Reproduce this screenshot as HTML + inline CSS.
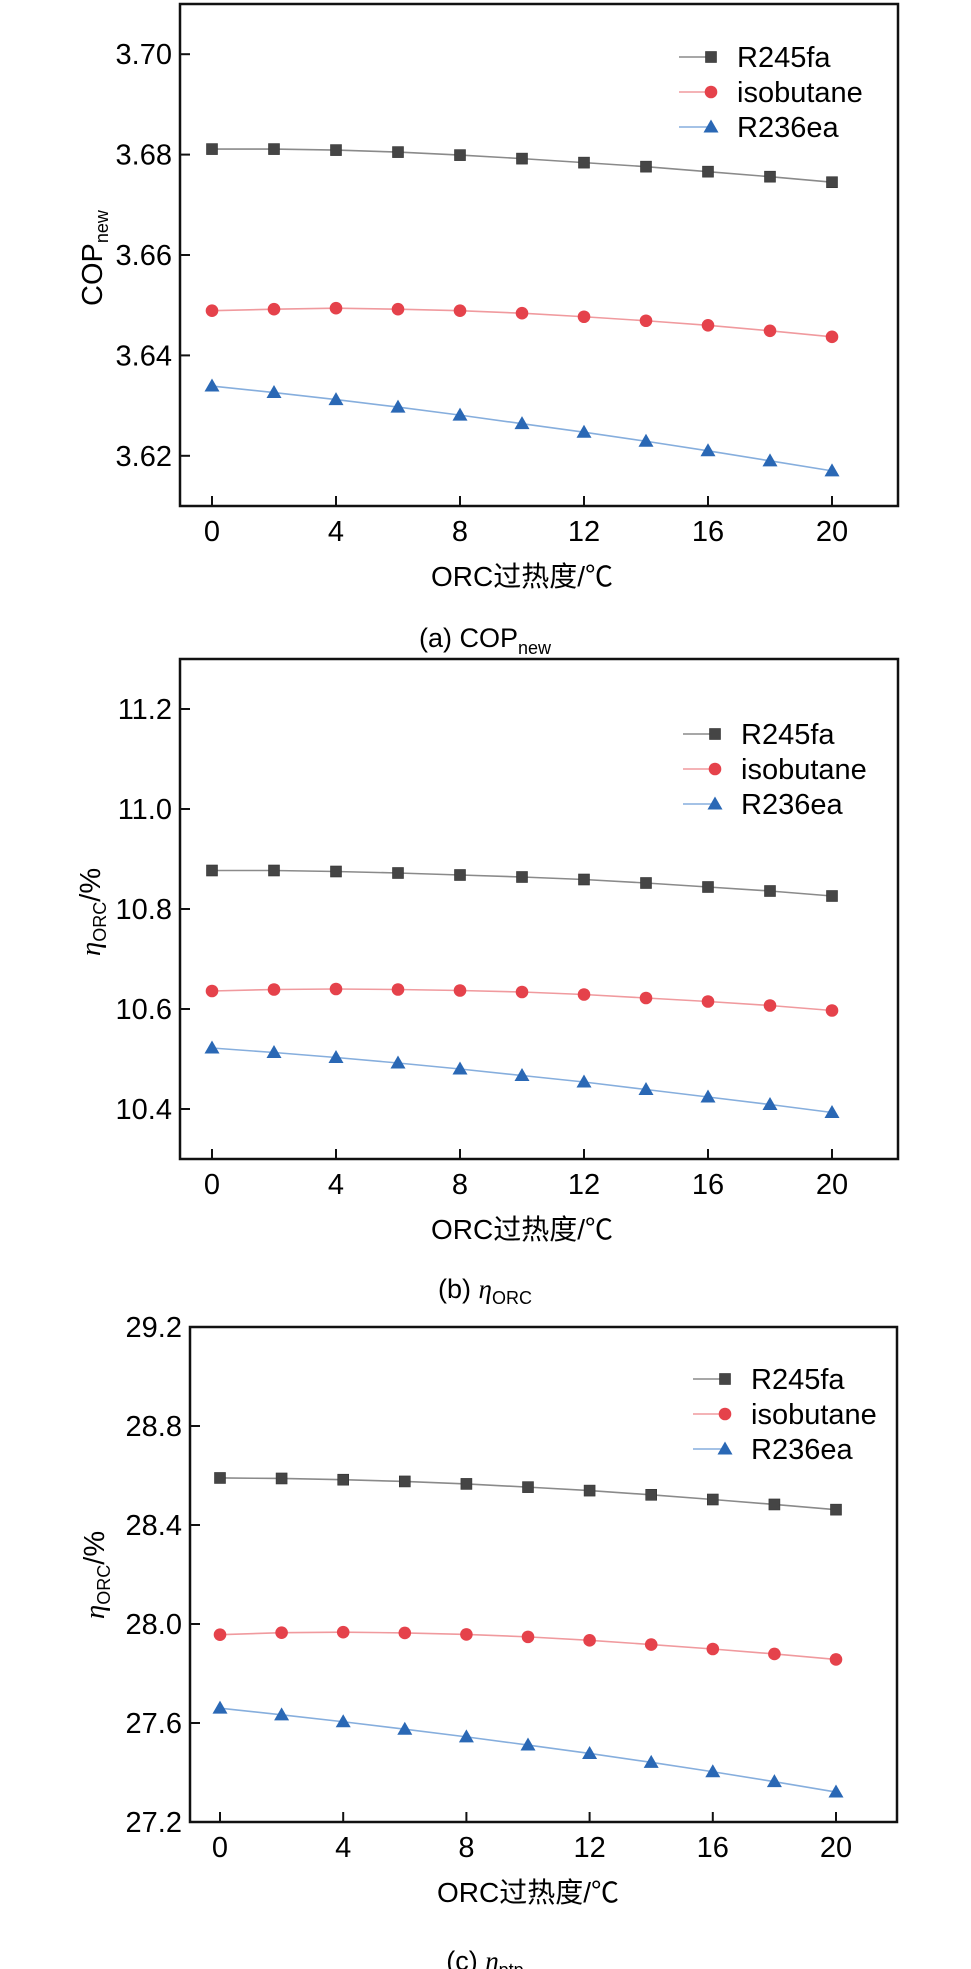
<!DOCTYPE html>
<html><head><meta charset="utf-8"><style>
html,body{margin:0;padding:0;background:#fff;}
svg{display:block;}
text{font-family:"Liberation Sans","Noto Sans CJK SC",sans-serif;fill:#000;}
</style></head><body>
<svg id="fig" width="971" height="1969" viewBox="0 0 971 1969" xmlns="http://www.w3.org/2000/svg"></svg>
<script>
const categories=[0,2,4,6,8,10,12,14,16,18,20];
const xTicks=[0,4,8,12,16,20];
const seriesNames=["R245fa","isobutane","R236ea"];
const copR245fa=[3.6811,3.6811,3.6809,3.6805,3.6799,3.6792,3.6784,3.6776,3.6766,3.6756,3.6745];
const copIsobutane=[3.6489,3.6492,3.6494,3.6492,3.6489,3.6484,3.6477,3.6469,3.6460,3.6449,3.6437];
const copR236ea=[3.6339,3.6326,3.6312,3.6297,3.6281,3.6264,3.6247,3.6229,3.6210,3.6190,3.6170];
const copTicks=["3.62","3.64","3.66","3.68","3.70"];
const orcR245fa=[10.877,10.877,10.875,10.872,10.868,10.864,10.859,10.852,10.844,10.836,10.826];
const orcIsobutane=[10.636,10.639,10.640,10.639,10.637,10.634,10.629,10.622,10.615,10.607,10.597];
const orcR236ea=[10.522,10.513,10.503,10.492,10.480,10.467,10.454,10.439,10.424,10.409,10.393];
const orcTicks=["10.4","10.6","10.8","11.0","11.2"];
const ptpR245fa=[28.590,28.588,28.583,28.576,28.566,28.553,28.539,28.522,28.503,28.483,28.462];
const ptpIsobutane=[27.957,27.965,27.967,27.964,27.958,27.948,27.934,27.917,27.899,27.879,27.857];
const ptpR236ea=[27.660,27.633,27.605,27.575,27.544,27.511,27.477,27.441,27.403,27.363,27.321];
const ptpTicks=["27.2","27.6","28.0","28.4","28.8","29.2"];

const NS="http://www.w3.org/2000/svg";
const svg=document.getElementById('fig');
function mk(tag,attrs,parent){const e=document.createElementNS(NS,tag);for(const k in attrs)e.setAttribute(k,attrs[k]);(parent||svg).appendChild(e);return e;}
const styles=[
 {line:"#8a8a8a",fill:"#454545",shape:"square"},
 {line:"#f09a9e",fill:"#e5424b",shape:"circle"},
 {line:"#86aedd",fill:"#2a68b5",shape:"triangle"}];
function marker(g,shape,cx,cy,fill){
 if(shape==="square")return mk('rect',{x:cx-5.5,y:cy-5.5,width:11,height:11,fill:fill,stroke:"#333","stroke-width":0.6},g);
 if(shape==="circle")return mk('circle',{cx:cx,cy:cy,r:6.3,fill:fill},g);
 return mk('polygon',{points:`${cx},${cy-7.5} ${cx+7.5},${cy+5.5} ${cx-7.5},${cy+5.5}`,fill:fill},g);
}
function chart(cfg){
 const g=mk('g',{});
 
 
 const X=v=>cfg.x0+v*cfg.dx;
 const Y=v=>cfg.B-(v-cfg.ymin)/(cfg.ymax-cfg.ymin)*(cfg.B-cfg.T);
 const frame=mk('rect',{x:cfg.L,y:cfg.T,width:cfg.R-cfg.L,height:cfg.B-cfg.T,fill:"none",stroke:"#111","stroke-width":2.5},g);
 
 
 cfg.yTicks.forEach(t=>{const v=parseFloat(t),y=Y(v);
  mk('line',{x1:cfg.L,x2:cfg.L+10,y1:y,y2:y,stroke:"#111","stroke-width":2},g);
  const tx=mk('text',{x:cfg.L-8,y:y+10,"font-size":29,"text-anchor":"end"},g);tx.textContent=t;
  
  });
 xTicks.forEach(v=>{const x=X(v);
  mk('line',{x1:x,x2:x,y1:cfg.B,y2:cfg.B-10,stroke:"#111","stroke-width":2},g);
  const tx=mk('text',{x:x,y:cfg.B+35,"font-size":29,"text-anchor":"middle"},g);tx.textContent=v;
  
  });
 cfg.series.forEach((d,i)=>{const s=styles[i];
  const pts=categories.map((c,j)=>X(c)+","+Y(d[j])).join(" ");
  const pl=mk('polyline',{points:pts,fill:"none",stroke:s.line,"stroke-width":1.6},g);
  
  
  categories.forEach((c,j)=>{const m=marker(g,s.shape,X(c),Y(d[j]),s.fill);
   
   });
  const ly=cfg.legY+i*35, lx=cfg.legX;
  const lg=mk('g',{},g);
  
  
  mk('line',{x1:lx,x2:lx+32,y1:ly,y2:ly,stroke:s.line,"stroke-width":1.6},lg);
  marker(lg,s.shape,lx+32,ly,s.fill);
  const lt=mk('text',{x:lx+58,y:ly+10,"font-size":29},lg);lt.textContent=seriesNames[i];
 });
 const xt=mk('text',{x:X(10),y:cfg.B+80,"font-size":28,"text-anchor":"middle"},g);
 xt.textContent="ORC过热度/℃";
 
 
 const yt=mk('text',{transform:`translate(${cfg.yTitleX},${cfg.yTitleY}) rotate(-90)`,"font-size":29,"text-anchor":"middle"},g);
 yt.innerHTML=cfg.yTitle;
 
 
 const cp=mk('text',{x:485,y:cfg.capY,"font-size":27,"text-anchor":"middle"},g);
 cp.innerHTML=cfg.caption;
 
 
}
chart({name:'cop-chart',L:180,R:898,T:4,B:506,x0:212,dx:31,ymin:3.61,ymax:3.71,yTicks:copTicks,
 series:[copR245fa,copIsobutane,copR236ea],legX:679,legY:57,
 yTitle:'COP<tspan font-size="18" dy="6">new</tspan>',yTitleX:102,yTitleY:258,
 caption:'(a) COP<tspan font-size="18" dy="7">new</tspan>',capY:647});
chart({name:'orc-efficiency-chart',L:180,R:898,T:659,B:1159,x0:212,dx:31,ymin:10.3,ymax:11.3,yTicks:orcTicks,
 series:[orcR245fa,orcIsobutane,orcR236ea],legX:683,legY:734,
 yTitle:'<tspan font-style="italic" font-family="Liberation Serif">η</tspan><tspan font-size="18" dy="6">ORC</tspan><tspan dy="-6">/%</tspan>',yTitleX:100,yTitleY:912,
 caption:'(b) <tspan font-style="italic" font-family="Liberation Serif">η</tspan><tspan font-size="18" dy="6">ORC</tspan>',capY:1298});
chart({name:'ptp-efficiency-chart',L:190,R:897,T:1327,B:1822,x0:220,dx:30.8,ymin:27.2,ymax:29.2,yTicks:ptpTicks,
 series:[ptpR245fa,ptpIsobutane,ptpR236ea],legX:693,legY:1379,
 yTitle:'<tspan font-style="italic" font-family="Liberation Serif">η</tspan><tspan font-size="18" dy="6">ORC</tspan><tspan dy="-6">/%</tspan>',yTitleX:104,yTitleY:1575,
 caption:'(c) <tspan font-style="italic" font-family="Liberation Serif">η</tspan><tspan font-size="18" dy="6">ptp</tspan>',capY:1970});
</script>
</body></html>
